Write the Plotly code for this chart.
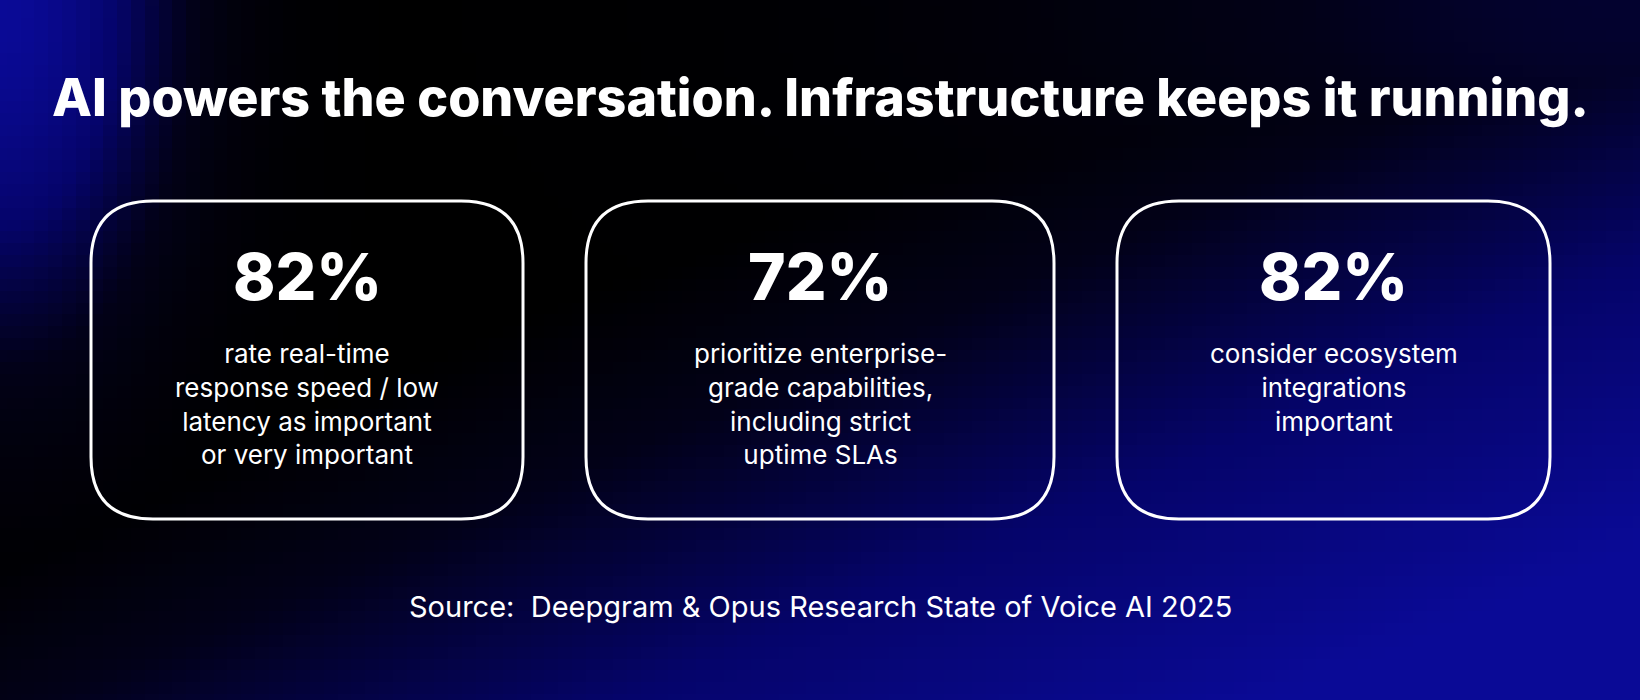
import numpy as np
import plotly.graph_objects as go

W, H = 1640, 700
title = "AI powers the conversation. Infrastructure keeps it running."
stats = ["82%", "72%", "82%"]
descs = ["rate real-time<br>response speed / low<br>latency as important<br>or very important",
         "prioritize enterprise-<br>grade capabilities,<br>including strict<br>uptime SLAs",
         "consider ecosystem<br>integrations<br>important"]
source = "Source:  Deepgram & Opus Research State of Voice AI 2025"

# decorative background gradient
xs = np.linspace(0, W, 120)
ys = np.linspace(0, H, 60)
X, Y = np.meshgrid(xs, ys)
u, v = X / W, Y / H
br = np.clip((u * 0.9 + v * 0.9 - 0.7) / 0.9, 0, 1)
tl = np.exp(-((u / 0.1) ** 2 + (v / 0.45) ** 2))
tr = 0.35 * np.exp(-(((u - 1) / 0.35) ** 2 + (v / 0.35) ** 2))
Z = np.maximum(np.maximum(br, tl), tr)

fig = go.Figure(go.Heatmap(x=xs, y=ys, z=Z, zmin=0, zmax=1, showscale=False, hoverinfo="skip",
                           colorscale=[[0, "#000000"], [0.25, "#020118"], [0.6, "#05046a"], [1, "#0a0a96"]]))

boxes = [(91, 523), (586, 1054), (1117, 1550)]
y0, y1, r = 201, 519, 62
shapes = []
for (a, b) in boxes:
    p = (f"M {a+r},{y0} L {b-r},{y0} Q {b},{y0} {b},{y0+r} L {b},{y1-r} Q {b},{y1} {b-r},{y1} "
         f"L {a+r},{y1} Q {a},{y1} {a},{y1-r} L {a},{y0+r} Q {a},{y0} {a+r},{y0} Z")
    shapes.append(dict(type="path", path=p, xref="x", yref="y", line=dict(color="white", width=3)))

ann = [dict(x=W / 2, y=97, text=title, showarrow=False, xref="x", yref="y",
            font=dict(family="Inter", size=52, color="white", weight=800))]
for (a, b), s, d in zip(boxes, stats, descs):
    cx = (a + b) / 2
    ann.append(dict(x=cx, y=276, text=s, showarrow=False, xref="x", yref="y",
                    font=dict(family="Inter", size=64, color="white", weight=800)))
    ann.append(dict(x=cx, y=336, yanchor="top", text=d, showarrow=False, xref="x", yref="y",
                    font=dict(family="Inter", size=26, color="white")))
ann.append(dict(x=W / 2, y=606, text=source, showarrow=False, xref="x", yref="y",
                font=dict(family="Inter", size=29, color="white")))

fig.update_layout(width=W, height=H, margin=dict(l=0, r=0, t=0, b=0),
                  paper_bgcolor="black", plot_bgcolor="black", shapes=shapes, annotations=ann,
                  xaxis=dict(range=[0, W], visible=False, fixedrange=True),
                  yaxis=dict(range=[H, 0], visible=False, fixedrange=True))
fig.write_html("out.html", config={"displayModeBar": False},
               post_script="document.body.style.margin='0';document.body.style.background='black';")
